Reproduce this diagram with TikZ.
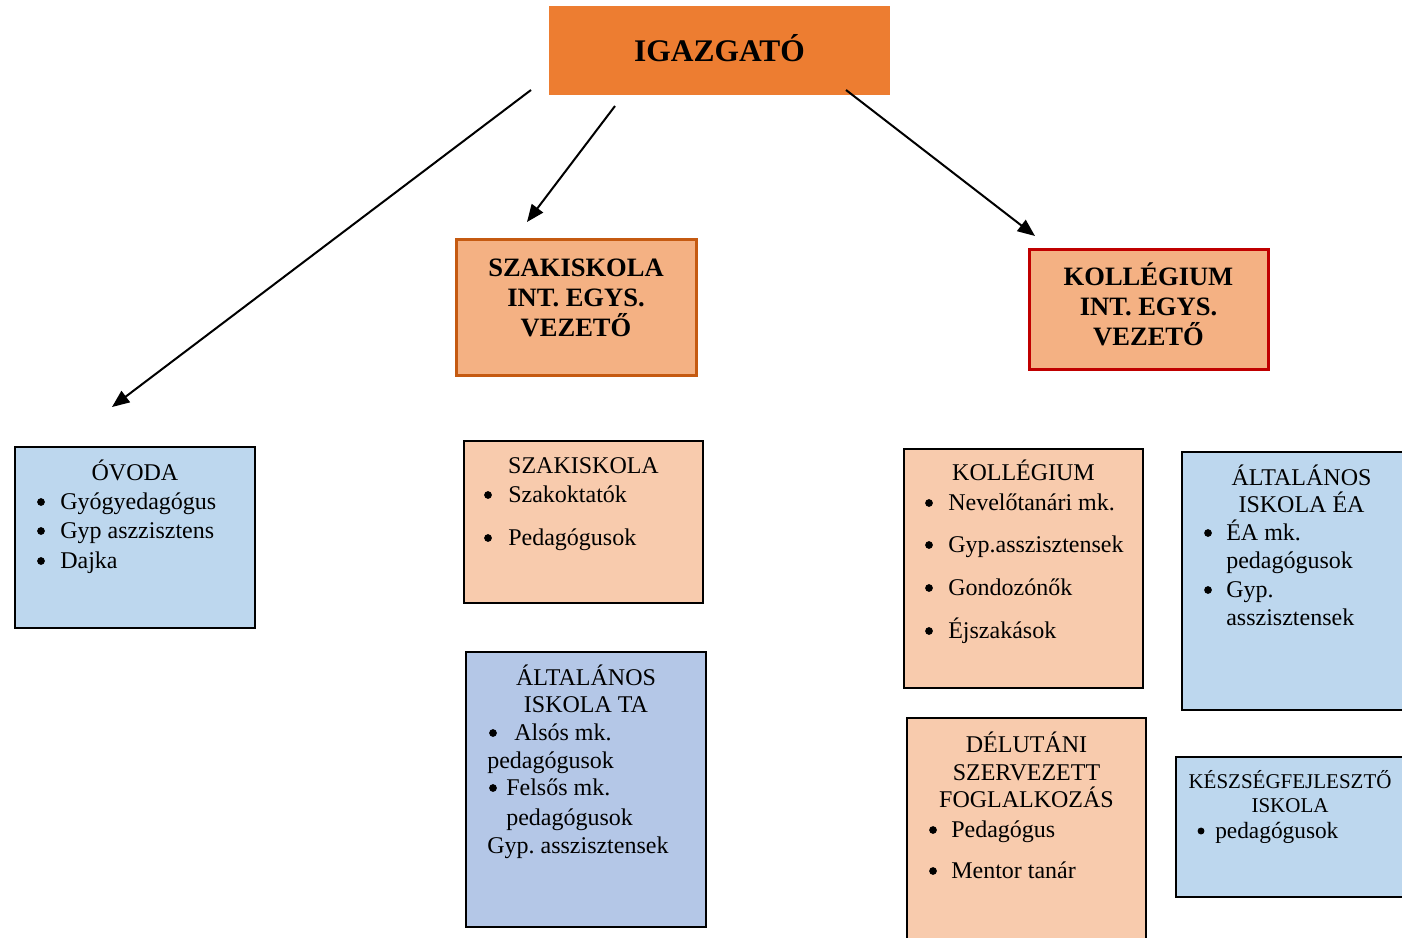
\documentclass[tikz,border=0pt]{standalone}
\usepackage{fontspec}
\setmainfont{Liberation Serif}
\usetikzlibrary{arrows.meta}
\frenchspacing
\newdimen\pxu \pxu=0.75pt
\newcommand\bl[1]{\hspace*{#1\pxu}}
\newcommand\bdot[3][2.9pt]{\fill[black] (#2,#3-7) circle[radius=#1];}
\definecolor{topor}{RGB}{237,125,49}
\definecolor{vezfill}{RGB}{244,177,131}
\definecolor{szakbrd}{RGB}{197,90,17}
\definecolor{kollbrd}{RGB}{192,0,0}
\definecolor{peach}{RGB}{248,203,173}
\definecolor{lblue}{RGB}{189,215,238}
\definecolor{tablue}{RGB}{180,199,231}
\tikzset{
  box/.style={draw=black, line width=1.5pt, inner sep=0pt, outer sep=0pt},
  vez/.style={line width=2.25pt, fill=vezfill, inner sep=0pt, outer sep=0pt},
  txt/.style={inner sep=0pt, anchor=base, font=\fontsize{18}{22}\selectfont},
  itm/.style={inner sep=0pt, anchor=base west, font=\fontsize{18}{22}\selectfont},
  hdr/.style={inner sep=0pt, anchor=base, font=\fontsize{19.9}{24}\selectfont\bfseries},
  conn/.style={line width=1.5pt, -{Triangle[length=13pt,width=10.5pt]}}
}
\begin{document}
\begin{tikzpicture}[x=0.75pt,y=-0.75pt]
\useasboundingbox (0,0) rectangle (1402,938);
\clip (0,0) rectangle (1402,938);
\fill[white] (0,0) rectangle (1402,938);

% top
\node[fill=topor, inner sep=0pt, minimum width=341\pxu, minimum height=89\pxu] (igb) at (719.5,50.5) {};
\node[inner sep=0pt, anchor=base, font=\fontsize{23.6}{28}\selectfont\bfseries] (igt) at (719.5,62) {IGAZGATÓ};

% vezeto boxes
\node[vez, draw=szakbrd, minimum width=240\pxu, minimum height=136\pxu] (szv) at (576,307) {};
\node[hdr] (szv1) at (576,276) {SZAKISKOLA};
\node[hdr] (szv2) at (576,306) {INT. EGYS.};
\node[hdr] (szv3) at (576,336) {VEZETŐ};

\node[vez, draw=kollbrd, minimum width=239\pxu, minimum height=120\pxu] (kov) at (1148.5,309) {};
\node[hdr] (kov1) at (1148.5,285) {KOLLÉGIUM};
\node[hdr] (kov2) at (1148.5,315) {INT. EGYS.};
\node[hdr] (kov3) at (1148.5,345) {VEZETŐ};

% OVODA
\node[box, fill=lblue, minimum width=240\pxu, minimum height=181\pxu] (ov) at (135,537.5) {};
\node[txt] (ovt) at (135,480) {ÓVODA};
\node[itm] (ov1) at (36.5,509) {\bl{23.5}Gyógyedagógus};
\node[itm] (ov2) at (36.5,538) {\bl{23.5}Gyp aszzisztens};
\node[itm] (ov3) at (36.5,568) {\bl{23.5}Dajka};
\bdot{41}{509} \bdot{41}{538} \bdot{41}{568}

% SZAKISKOLA
\node[box, fill=peach, minimum width=239\pxu, minimum height=162\pxu] (sz) at (583.5,522) {};
\node[txt] (szt) at (583.5,473) {SZAKISKOLA};
\node[itm] (sz1) at (482.8,502) {\bl{25.2}Szakoktatók};
\node[itm] (sz2) at (482.8,545) {\bl{25.2}Pedagógusok};
\bdot{488}{502} \bdot{488}{545}

% ALTALANOS TA
\node[box, fill=tablue, minimum width=240\pxu, minimum height=275\pxu] (ta) at (586,789.5) {};
\node[txt] (tat1) at (586,685) {ÁLTALÁNOS};
\node[txt] (tat2) at (586,712) {ISKOLA TA};
\node[itm] (ta1) at (488.8,740) {\bl{25.2}Alsós mk.};
\node[itm] (ta2) at (487,768) {pedagógusok};
\node[itm] (ta3) at (488.8,795) {\bl{17.2}Felsős mk.};
\node[itm] (ta4) at (506,825) {pedagógusok};
\node[itm] (ta5) at (487,853) {Gyp. asszisztensek};
\bdot{493}{740} \bdot{493}{795}

% KOLLEGIUM
\node[box, fill=peach, minimum width=239\pxu, minimum height=239\pxu] (ko) at (1023.5,568.5) {};
\node[txt] (kot) at (1023.5,480) {KOLLÉGIUM};
\node[itm] (ko1) at (923.8,510) {\bl{24.2}Nevelőtanári mk.};
\node[itm] (ko2) at (923.8,552) {\bl{24.2}Gyp.asszisztensek};
\node[itm] (ko3) at (923.8,595) {\bl{24.2}Gondozónők};
\node[itm] (ko4) at (923.8,638) {\bl{24.2}Éjszakások};
\bdot{929}{510} \bdot{929}{552} \bdot{929}{595} \bdot{929}{638}

% ALTALANOS EA
\node[box, fill=lblue, minimum width=240\pxu, minimum height=258\pxu] (ea) at (1302,581) {};
\node[txt] (eat1) at (1301.5,485) {ÁLTALÁNOS};
\node[txt] (eat2) at (1301.5,512) {ISKOLA ÉA};
\node[itm] (ea1) at (1203.8,540) {\bl{22.2}ÉA mk.};
\node[itm] (ea2) at (1226,568) {pedagógusok};
\node[itm] (ea3) at (1203.8,597) {\bl{22.2}Gyp.};
\node[itm] (ea4) at (1226,625) {asszisztensek};
\bdot{1208}{540} \bdot{1208}{597}

% DELUTANI
\node[box, fill=peach, minimum width=239\pxu, minimum height=240\pxu] (de) at (1026.5,838) {};
\node[txt] (det1) at (1026.5,752) {DÉLUTÁNI};
\node[txt] (det2) at (1026.5,780) {SZERVEZETT};
\node[txt] (det3) at (1026.5,807) {FOGLALKOZÁS};
\node[itm] (de1) at (928.8,837) {\bl{22.2}Pedagógus};
\node[itm] (de2) at (928.8,878) {\bl{22.2}Mentor tanár};
\bdot{933}{837} \bdot{933}{878}

% KESZSEGFEJLESZTO
\node[box, fill=lblue, minimum width=240\pxu, minimum height=140\pxu] (ke) at (1296,827) {};
\node[txt, font=\fontsize{15.75}{19}\selectfont] (ket1) at (1290,788) {KÉSZSÉGFEJLESZTŐ};
\node[txt, font=\fontsize{15.75}{19}\selectfont] (ket2) at (1290,812) {ISKOLA};
\node[itm, font=\fontsize{17.5}{21}\selectfont] (ke1) at (1195.9,838) {\bl{19.1}pedagógusok};
\bdot[2.6pt]{1201}{838}

% arrows
\coordinate (a1s) at (531,90);  \coordinate (a1e) at (112,407);
\coordinate (a2s) at (615,106); \coordinate (a2e) at (527,222);
\coordinate (a3s) at (846,90);  \coordinate (a3e) at (1035,236);
\draw[conn] (a1s) -- (a1e);
\draw[conn] (a2s) -- (a2e);
\draw[conn] (a3s) -- (a3e);
\end{tikzpicture}
\end{document}
